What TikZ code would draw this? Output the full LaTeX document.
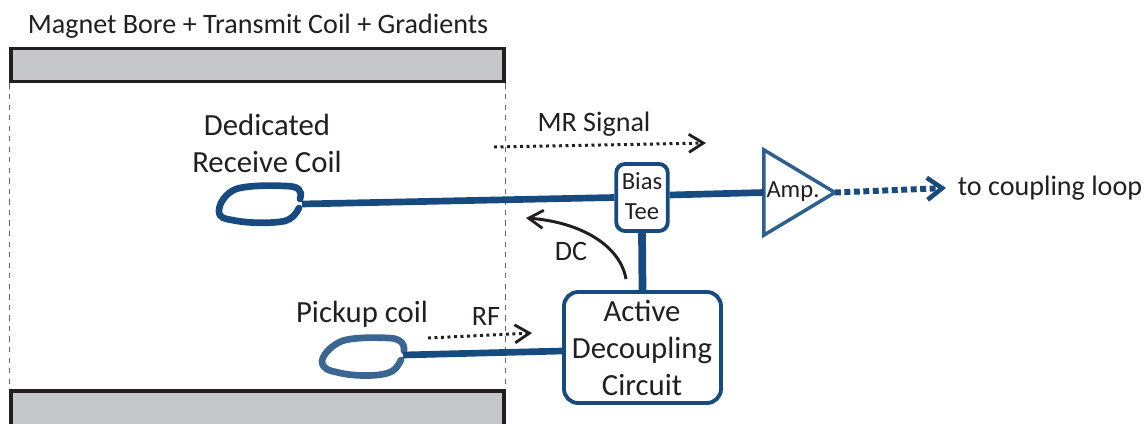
\documentclass[tikz,border=0pt]{standalone}
\usepackage{xcolor}
\usepackage{fontspec}
\setmainfont{Carlito}
\usetikzlibrary{arrows.meta,shapes.geometric}
\definecolor{coilblue}{HTML}{174A7E}
\definecolor{pickblue}{HTML}{3A6694}
\definecolor{ampblue}{HTML}{2F5F8F}
\definecolor{boregray}{HTML}{C6C7C9}
\definecolor{inktext}{HTML}{231F20}

\begin{document}
\begin{tikzpicture}[x=0.02cm,y=-0.02cm,
    bore/.style={rectangle,draw=inktext,fill=boregray,line width=2.2pt,minimum width=9.86cm,inner sep=0},
    box/.style={rectangle,draw=coilblue,fill=white,line width=2.2pt,rounded corners=5pt,align=center,inner sep=0,text=inktext},
    amptri/.style={isosceles triangle,isosceles triangle apex angle=62,draw=ampblue,fill=white,line width=2pt,
                 minimum height=1.42cm,inner sep=0,outer sep=0},
    lbl/.style={font=\fontsize{17.5}{21}\selectfont,align=center,text=inktext,inner sep=0},
    small/.style={font=\fontsize{16}{18}\selectfont,align=center,text=inktext,inner sep=0},
    wire/.style={coilblue,line width=3.8pt},
    coil/.style={coilblue,line width=3.8pt,line cap=round},
    guide/.style={gray!80!black,dashed,line width=0.6pt},
    flow/.style={inktext,dotted,line width=1.7pt,-{Straight Barb[length=2.9mm,width=3.6mm,line width=1.6pt]}}
]
\useasboundingbox (0,0) rectangle (1145,423);

% magnet bore
\node[bore,minimum height=0.66cm] (boretop) at (257.5,65) {};
\node[bore,minimum height=1.2cm] (borebot) at (257.5,421) {};
\node[small] (boretxt) at (258,26) {Magnet Bore + Transmit Coil + Gradients};
\draw[guide] (boretop.south west) -- (borebot.north west);
\draw[guide] (boretop.south east) -- (borebot.north east);

% blocks
\node[box,minimum width=1.03cm,minimum height=1.34cm] (bias) at (642,197.5) {};
\node[small,font=\fontsize{14}{17.5}\selectfont] (biastxt) at (642,196) {Bias\\Tee};
\node[box,minimum width=3.14cm,minimum height=2.22cm,rounded corners=8pt] (adc) at (642.5,347.5) {};
\node[lbl] (adctxt) at (642,348) {Active\\Decoupling\\Circuit};
\node[amptri] (amp) at (788,192.5) {};
\node[small,font=\fontsize{14}{15}\selectfont] (amptxt) at (793,192) {Amp.};

% coils
\coordinate (rxend) at (302,204);
\coordinate (pickend) at (403,355);
\draw[coil] (300,199) .. controls (303,190) and (298,186) .. (285,186)
    .. controls (265,185) and (245,186) .. (236,189)
    .. controls (226,193) and (219,203) .. (219,211)
    .. controls (219,218) and (225,219) .. (232,220)
    .. controls (245,223) and (270,224) .. (285,221)
    .. controls (292,219) and (296,214) .. (299,208);
\draw[coil,pickblue] (404,351) .. controls (405,342) and (398,338) .. (388,338)
    .. controls (370,337) and (350,338) .. (342,341)
    .. controls (332,345) and (323,354) .. (322,361)
    .. controls (322,369) and (330,371) .. (336,372)
    .. controls (350,376) and (375,377) .. (388,373)
    .. controls (395,371) and (398,366) .. (401,360);

% wires
\draw[wire] (rxend) -- (bias.west);
\draw[wire] ([yshift=0.05cm]bias.east) -- (amp.lower side);
\draw[wire,line width=4.4pt] (bias.south) -- (adc.north);
\draw[wire] (pickend) -- ([yshift=-0.07cm]adc.west);

% signal arrows
\coordinate (mrfrom) at (494,147);
\coordinate (mrto) at (706,143);
\coordinate (rffrom) at (428,338);
\coordinate (rfto) at (532,333);
\coordinate (dcfrom) at (626,279);
\coordinate (dcto) at (526,218);
\coordinate (outto) at (946,188);
\draw[flow] (mrfrom) -- (mrto);
\draw[flow] (rffrom) -- (rfto);
\draw[inktext,line width=1.7pt,-{Straight Barb[length=2.9mm,width=3.6mm,line width=1.6pt]}] (dcfrom) .. controls (620,245) and (580,222) .. (dcto);
\draw[coilblue,line width=3.4pt,dotted,-{Straight Barb[length=3mm,width=4.4mm,line width=2.6pt]}] (amp.apex) -- (outto);

% labels
\node[lbl] (rxtxt) at (267,143.5) {Dedicated\\Receive Coil};
\node[small] (mrtxt) at (594,124) {MR Signal};
\node[lbl] (picktxt) at (362,314.5) {Pickup coil};
\node[small] (rftxt) at (486,316) {RF};
\node[small] (dctxt) at (571,251) {DC};
\node[small] (outtxt) at (1050,188) {to coupling loop};
\end{tikzpicture}
\end{document}
